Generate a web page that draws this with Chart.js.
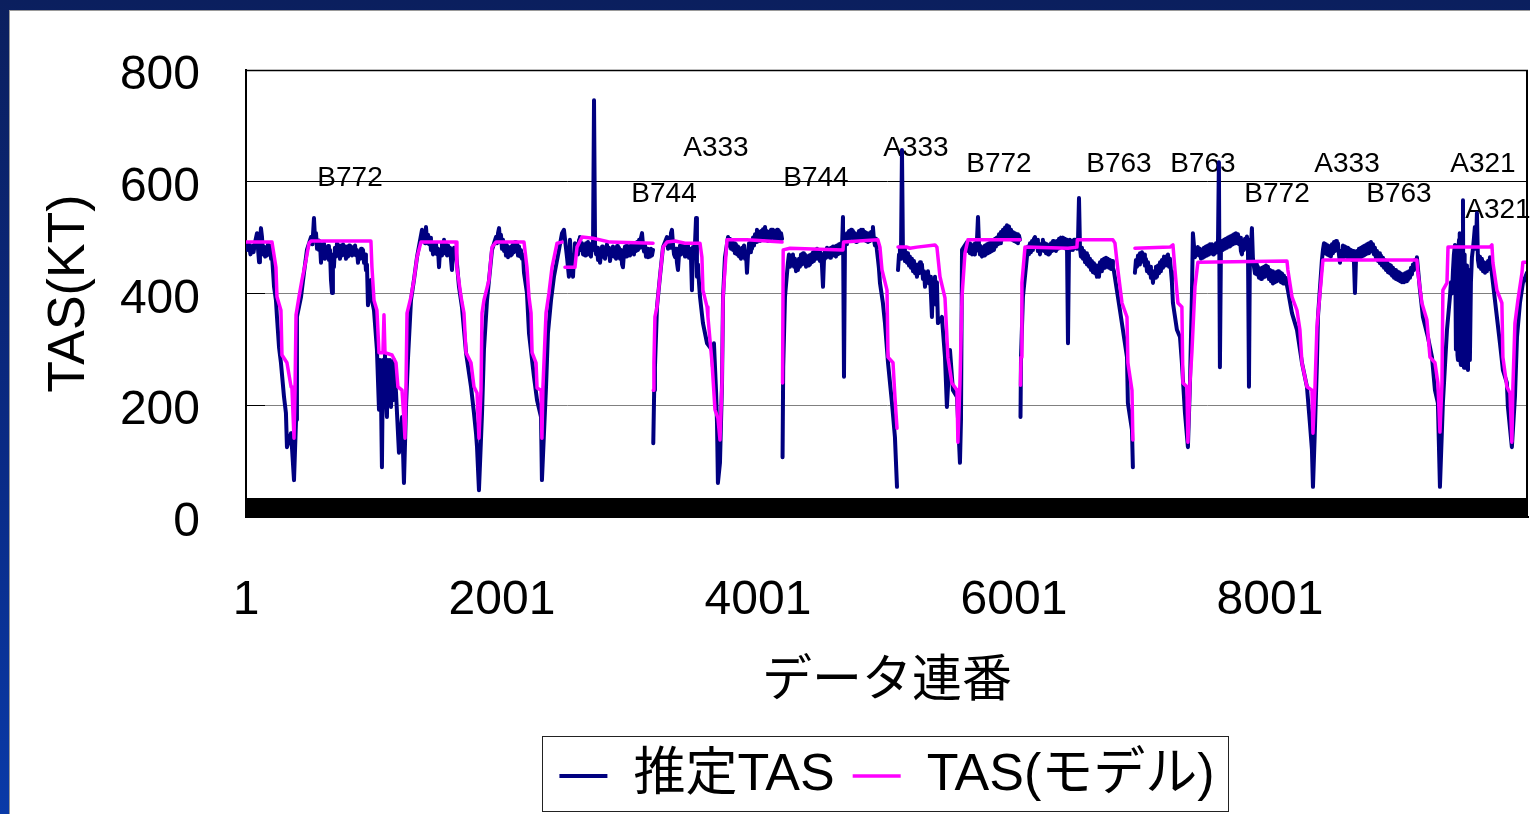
<!DOCTYPE html>
<html><head><meta charset="utf-8">
<script src="https://cdn.jsdelivr.net/npm/chart.js@4.4.1/dist/chart.umd.min.js"></script>
<style>
html,body{margin:0;padding:0;width:1530px;height:814px;overflow:hidden;}
body{background:linear-gradient(to bottom,#0b1f5e 0%,#0a2a84 55%,#0a3aa8 100%);position:relative;}
#panel{position:absolute;left:9px;top:10px;right:0;bottom:0;background:#fff;border-left:1px solid #9a9a9a;border-top:1px solid #9a9a9a;}
#c{position:absolute;left:0;top:0;}
</style></head>
<body><div id="panel"></div><canvas id="c" width="1530" height="814"></canvas>
<script>
// ---- data (sequence number / TAS in kt) ----
const seriesNames = ['推定TAS', 'TAS(モデル)'];
const xTitle = 'データ連番';
const yTitle = 'TAS(KT)';
const xTickLabels = ['1', '2001', '4001', '6001', '8001'];

const estSeq = [
1,12,24,36,48,60,72,87,95,103,
110,118,126,134,142,150,158,165,173,181,
190,197,204,220,235,243,259,274,298,313,
321,353,360,376,392,399,431,454,477,509,
520,532,540,548,556,564,571,579,587,595,
603,610,618,626,634,642,649,657,665,673,
680,688,696,704,712,720,728,735,743,751,
759,767,775,782,790,798,806,813,821,829,
837,845,853,861,868,876,884,892,900,907,
915,923,931,938,946,954,977,985,1001,1024,
1040,1048,1056,1063,1071,1079,1087,1095,1102,1110,
1118,1126,1134,1142,1149,1157,1173,1196,1220,1235,
1251,1266,1290,1313,1337,1376,1384,1392,1400,1407,
1415,1423,1431,1439,1446,1454,1462,1470,1478,1485,
1493,1501,1509,1517,1525,1532,1540,1548,1556,1564,
1572,1580,1587,1595,1603,1610,1618,1626,1634,1642,
1665,1688,1720,1759,1782,1798,1806,1821,1845,1860,
1884,1923,1954,1962,1970,1978,1986,1993,2001,2009,
2017,2025,2032,2040,2048,2056,2064,2071,2079,2087,
2095,2103,2110,2118,2126,2134,2142,2149,2157,2165,
2173,2196,2212,2251,2275,2306,2313,2329,2345,2360,
2384,2407,2446,2470,2485,2509,2524,2532,2540,2548,
2556,2564,2571,2579,2587,2595,2603,2610,2618,2626,
2634,2642,2650,2657,2665,2673,2681,2689,2696,2704,
2712,2720,2728,2736,2744,2751,2759,2767,2775,2783,
2790,2798,2806,2814,2821,2829,2837,2845,2853,2861,
2868,2876,2884,2892,2900,2907,2915,2923,2931,2939,
2946,2954,2962,2970,2977,2985,2993,3001,3009,3017,
3025,3032,3040,3048,3056,3064,3072,3079,3087,3095,
3103,3111,3118,3126,3134,3141,3149,3157,3165,3173,
3181,3182,
3183,3190,3196,3212,3235,3259,3290,3298,3306,3314,
3321,3329,3337,3345,3353,3361,3368,3376,3384,3392,
3399,3407,3415,3423,3431,3438,3446,3454,3462,3470,
3478,3485,3493,3501,3509,3517,3524,3532,3540,3548,
3571,3603,3642,3649,3657,3673,3681,3688,3704,3720,
3728,3743,3767,3775,3782,3790,3798,3806,3814,3821,
3829,3837,3845,3853,3860,3868,3876,3884,3892,3900,
3907,3915,3923,3931,3939,3946,3954,3962,3970,3978,
3986,3993,4001,4009,4017,4025,4032,4040,4048,4056,
4064,4071,4079,4087,4095,4103,4110,4118,4126,4134,
4142,4150,4157,4165,4173,4181,4189,4191,
4193,4198,4212,4235,4243,4251,4259,4266,4274,4282,
4290,4298,4306,4313,4321,4329,4337,4345,4353,4360,
4368,4376,4384,4392,4399,4407,4415,4423,4431,4438,
4446,4454,4462,4470,4478,4485,4493,4501,4509,4517,
4524,4532,4540,4548,4556,4564,4571,4579,4587,4595,
4603,4610,4618,4626,4634,4642,4650,4657,4665,4673,
4681,4689,4696,4704,4712,4720,4728,4735,4743,4751,
4759,4767,4774,4782,4790,4798,4806,4814,4821,4829,
4837,4845,4853,4860,4868,4876,4884,4892,4899,4907,
4915,4923,4930,4938,4946,4954,4977,4993,5017,5048,
5071,5087,5090,
5095,5103,5110,5118,5126,5134,5142,5149,5157,5165,
5173,5181,5188,5196,5204,5212,5220,5228,5235,5243,
5251,5259,5267,5274,5282,5290,5298,5306,5314,5321,
5329,5337,5345,5352,5360,5368,5376,5384,5392,5399,
5407,5438,5462,5477,5501,5524,5556,5579,5587,5595,
5634,5642,5650,5657,5665,5673,5681,5689,5696,5704,
5712,5720,5728,5735,5743,5751,5759,5767,5774,5782,
5790,5798,5806,5813,5821,5829,5837,5845,5853,5860,
5868,5876,5884,5892,5899,5907,5915,5923,5931,5939,
5946,5954,5962,5970,5978,5986,5993,6001,6009,6017,
6025,6032,6040,6048,6050,
6052,6056,6071,6102,6110,6118,6126,6134,6142,6149,
6157,6165,6173,6181,6188,6196,6204,6212,6220,6227,
6235,6243,6251,6259,6267,6274,6282,6290,6298,6306,
6313,6321,6329,6337,6345,6353,6360,6368,6376,6384,
6392,6399,6407,6415,6423,6431,6438,6446,6454,6462,
6470,6477,6485,6493,6501,6509,6517,6524,6532,6540,
6548,6556,6564,6571,6579,6587,6595,6603,6610,6618,
6626,6634,6642,6649,6657,6665,6673,6681,6688,6696,
6704,6712,6720,6728,6735,6743,6751,6759,6767,6774,
6782,6805,6829,6852,6884,6891,6923,6930,6935,
6946,6954,6962,6970,6978,6985,6993,7001,7009,7017,
7024,7032,7040,7048,7056,7064,7071,7079,7087,7095,
7103,7110,7118,7126,7134,7142,7149,7157,7165,7173,
7181,7188,7196,7204,7212,7220,7228,7235,7243,7274,
7298,7313,7337,7360,7376,7391,7399,7415,7438,7446,
7454,7462,7470,7477,7485,7493,7501,7509,7517,7524,
7532,7540,7548,7556,7563,7571,7579,7587,7595,7602,
7610,7618,7626,7634,7642,7649,7657,7665,7673,7681,
7688,7696,7704,7712,7720,7728,7735,7743,7751,7759,
7767,7774,7782,7790,7798,7806,7813,7821,7829,7837,
7845,7852,7860,7868,7876,7884,7892,7899,7907,7915,
7923,7931,7938,7946,7954,7962,7970,7977,7985,7993,
8001,8009,8017,8024,8032,8040,8048,8056,8064,8071,
8079,8087,8095,8103,8110,8118,8126,8134,8141,8173,
8212,8251,8290,8313,8329,8337,8352,8368,8376,8407,
8415,8423,8431,8438,8446,8454,8462,8470,8477,8485,
8493,8501,8509,8517,8524,8532,8540,8548,8556,8564,
8571,8579,8587,8595,8603,8610,8618,8626,8634,8642,
8650,8657,8665,8673,8681,8689,8696,8704,8712,8720,
8728,8735,8743,8751,8759,8767,8774,8782,8790,8798,
8806,8813,8821,8829,8837,8845,8853,8860,8868,8876,
8884,8892,8899,8907,8915,8923,8931,8938,8946,8954,
8962,8970,8978,8985,8993,9001,9009,9017,9024,9032,
9040,9048,9056,9064,9071,9079,9087,9095,9103,9110,
9118,9126,9134,9142,9149,9173,9196,9235,9267,9290,
9313,9329,9352,9384,9407,9415,9423,9431,9438,9446,
9450,9454,9458,9462,9466,9470,9474,9478,9482,9485,
9489,9493,9497,9501,9505,9509,9513,9517,9520,9524,
9528,9532,9536,9540,9544,9548,9552,9556,9560,9563,
9571,9579,9587,9595,9602,9610,9618,9626,9634,9642,
9650,9657,9665,9673,9681,9689,9696,9704,9712,9720,
9743,9774,9798,9821,9852,9860,9891,9915,9931,9954,
9977,10009,10017];

const estTas = [
490,478,488,470,485,474,492,508,480,456,
490,517,501,470,484,466,480,468,488,476,
485,462,470,412,388,358,304,276,215,186,
125,150,125,66,174,358,394,437,478,501,
488,535,500,508,480,495,478,490,455,485,
470,490,462,482,466,485,460,478,424,401,
470,447,482,466,490,470,486,462,482,468,
488,472,484,462,476,466,486,470,484,468,
482,470,486,468,478,455,472,462,480,466,
478,455,470,442,452,379,424,388,370,299,
192,281,209,89,281,200,290,209,179,281,
200,281,197,272,209,281,222,115,179,61,
197,281,388,424,465,514,495,510,490,519,
495,505,488,500,478,490,470,488,472,490,
470,480,447,478,468,490,475,496,472,488,
468,486,470,482,460,442,470,482,466,472,
412,376,294,233,186,150,125,48,186,299,
388,478,501,490,508,517,492,505,480,496,
476,490,468,486,465,480,468,484,470,488,
474,492,478,490,468,484,466,478,462,470,
437,401,329,251,209,179,66,150,233,329,
388,430,478,508,514,465,430,496,470,455,
430,470,490,472,488,470,496,501,478,490,
470,486,468,490,476,492,470,484,466,490,
478,746,488,470,482,460,476,455,472,484,
466,480,462,476,488,470,482,458,474,468,
484,466,480,462,485,470,482,462,478,452,
447,472,484,466,486,470,484,468,486,474,
488,470,486,476,492,478,496,482,500,508,
486,475,488,466,480,465,478,466,480,468,
478,null,
132,227,268,376,430,483,501,480,500,482,
508,514,488,470,465,480,455,442,470,486,
470,490,472,488,466,482,470,486,464,480,
462,406,483,466,490,535,430,452,420,394,
347,311,299,268,311,227,168,61,97,240,
394,465,501,486,498,480,494,478,490,472,
488,470,484,466,478,462,482,468,486,462,
474,437,470,490,474,494,480,500,486,506,
492,514,496,510,494,512,498,515,500,519,
498,512,494,510,496,514,500,514,498,512,
496,514,500,512,496,508,498,null,
107,268,394,455,470,448,466,452,470,448,
462,440,458,442,462,448,470,452,472,455,
470,448,466,450,468,452,470,456,474,458,
476,462,480,462,476,458,472,450,412,462,
478,464,482,466,480,464,482,468,484,468,
484,466,486,470,488,472,490,478,537,251,
501,488,508,494,512,498,514,500,512,494,
508,492,506,494,512,498,514,500,514,496,
510,494,508,492,506,494,510,498,519,496,
486,498,478,462,445,419,383,347,276,204,
143,54,null,
442,470,483,462,657,465,480,458,474,455,
472,450,466,446,462,440,458,436,452,430,
452,436,456,440,452,426,440,412,436,420,
440,418,430,400,358,420,400,430,380,420,
347,358,286,197,299,227,215,97,174,478,
492,476,490,472,488,470,486,470,490,476,
496,537,486,470,484,466,482,468,486,470,
488,472,490,474,492,476,494,478,498,484,
500,488,506,490,510,496,514,498,518,502,
522,506,520,500,514,496,510,494,508,492,
506,490,504,496,null,
179,286,394,465,484,470,490,474,494,478,
498,501,484,496,476,490,470,486,478,496,
476,490,472,488,470,486,472,490,476,494,
478,492,476,494,480,498,482,500,486,500,
482,498,480,496,311,486,496,478,494,478,
496,482,496,480,492,571,480,466,482,462,
476,456,472,452,468,448,462,442,458,438,
454,436,450,430,446,430,456,440,460,444,
462,446,464,448,462,446,460,444,458,446,
440,406,370,335,286,204,156,89,null,
437,460,448,468,452,472,456,474,458,470,
450,462,440,456,436,448,428,440,419,440,
428,448,430,450,436,456,440,460,446,466,
450,466,452,470,448,462,440,420,383,335,
322,276,186,125,240,394,508,465,483,468,
480,462,478,464,482,466,484,468,486,470,
488,472,488,470,486,472,490,474,490,635,
268,480,494,478,496,480,498,482,500,484,
502,486,504,488,506,490,508,492,506,488,
500,476,470,492,478,498,484,502,488,233,
496,482,517,462,448,436,452,434,448,428,
444,426,446,428,448,430,450,434,448,426,
442,422,440,418,436,420,438,422,440,424,
438,420,436,418,432,418,428,414,406,365,
335,276,233,168,120,54,156,276,358,460,
478,490,472,488,470,486,468,484,466,488,
472,492,476,494,478,490,470,455,476,462,
486,468,484,466,482,464,480,462,478,460,
476,458,401,460,476,462,480,464,482,466,
484,468,486,470,488,472,490,474,492,476,
488,470,482,464,476,458,472,454,468,450,
464,446,460,442,456,438,452,436,450,432,
446,428,442,426,440,424,438,422,436,420,
434,420,436,422,438,424,440,428,446,434,
452,442,460,452,465,406,358,322,286,227,
204,54,204,335,394,420,400,442,470,487,
420,300,470,483,290,281,480,496,300,508,
280,272,470,478,300,567,275,267,470,460,
290,267,450,424,270,263,440,442,300,281,
420,465,480,500,519,480,544,460,448,466,
444,462,440,456,437,454,440,458,444,465,
419,358,311,263,240,197,125,215,322,383,
419,437,412];

const modSeq = [
1,204,235,243,274,282,321,353,360,376,
384,392,415,438,470,493,509,977,985,1001,
1024,1040,1071,1079,1087,1142,1173,1188,1220,1235,
1243,1251,1259,1290,1313,1337,1368,1642,1649,1681,
1704,1720,1759,1782,1806,1821,1837,1845,1860,1899,
1923,1954,2173,2196,2212,2228,2236,2267,2275,2306,
2313,2321,2345,2368,2392,2431,2470,2480,2493,2571,
2587,2626,2712,2845,3181,3182,
3183,3188,3196,3212,3235,3259,3290,3353,3431,3548,
3563,3571,3603,3610,3642,3665,3688,3704,3720,3728,
3759,3915,4189,4191,
4193,4198,4251,4665,4670,4938,4954,4970,5009,5017,
5056,5071,5087,5090,
5095,5165,5188,5243,5384,5399,5423,5462,5485,5516,
5556,5563,5579,5595,5618,5641,6048,6050,
6052,6056,6063,6087,6423,6493,6496,6774,6790,6813,
6845,6884,6891,6923,6930,6935,
6946,7220,7243,7259,7282,7313,7321,7352,7360,7376,
7391,7415,7438,8134,8141,8173,8212,8235,8251,8290,
8329,8337,8352,8368,8392,8415,9149,9157,9188,9227,
9251,9290,9313,9329,9345,9352,9384,9392,9720,9735,
9743,9774,9813,9821,9852,9876,9891,9899,9915,9938,
9970,9977,10017];

const modTas = [
492,492,447,394,370,290,276,233,231,141,
227,362,394,424,460,490,494,494,447,388,
370,294,294,362,294,290,276,233,227,174,
141,233,365,394,424,465,492,492,447,394,
365,294,276,233,222,141,227,365,388,424,
483,492,492,447,394,365,294,276,231,227,
141,233,365,401,447,490,492,null,447,447,
483,501,499,492,490,null,
227,276,358,376,430,483,492,494,490,490,
465,406,376,358,276,192,177,138,240,394,
496,496,492,null,
240,478,481,478,492,496,483,442,406,286,
276,215,159,null,
483,483,481,483,487,483,430,392,286,240,
227,134,240,394,472,496,496,null,
236,286,419,483,481,483,496,496,490,442,
383,358,276,227,138,null,
481,483,487,442,383,376,240,233,134,240,
294,412,456,458,442,394,370,335,276,233,
227,150,227,340,401,460,460,437,383,353,
286,276,240,152,240,406,419,483,483,487,
455,406,383,286,233,222,134,233,347,388,
437,456,456];

// aircraft type labels placed at (sequence, TAS)
const annoText = ['B772','B744','A333','B744','A333','B772','B763','B763','B772','A333','B763','A321','A321'];
const annoSeq  = [814,3267,3673,4454,5235,5884,6821,7477,8056,8603,9009,9665,9782];
const annoTas  = [607,578,660,607,660,632,632,632,578,632,578,632,549];

// ---- chart ----
const LATIN = '"Liberation Sans", Arial, "Noto Sans CJK JP", sans-serif';
const JP = '"Noto Sans CJK JP", "Liberation Sans", sans-serif';
const toPts = (xs, ys) => xs.map((x, i) => ({x: x, y: ys[i] === undefined ? null : ys[i]}));

const framePlugin = {
  id: 'frame',
  afterDraw(chart) {
    const a = chart.chartArea, ctx = chart.ctx;
    ctx.save();
    ctx.strokeStyle = '#000';
    ctx.lineWidth = 1.5;
    ctx.beginPath(); ctx.moveTo(a.left, a.top + 0.5); ctx.lineTo(a.right, a.top + 0.5); ctx.stroke();
    ctx.lineWidth = 2;
    ctx.beginPath(); ctx.moveTo(a.right - 1, a.top); ctx.lineTo(a.right - 1, a.bottom); ctx.stroke();
    const hb = chart.legend.legendHitBoxes;
    if (hb && hb.length) {
      const l = hb[0].left - 17, last = hb[hb.length - 1];
      const r = last.left + last.width + 14;
      const cy = hb[0].top + hb[0].height / 2;
      ctx.lineWidth = 1; ctx.strokeStyle = '#222';
      ctx.strokeRect(Math.round(l) + 0.5, Math.round(cy - 40) + 0.5, Math.round(r - l), 75);
    }
    ctx.restore();
  }
};

const annoPlugin = {
  id: 'anno',
  beforeDatasetsDraw(chart) {
    const ctx = chart.ctx, xs = chart.scales.x, ys = chart.scales.y;
    ctx.save();
    ctx.font = '28px ' + LATIN;
    ctx.fillStyle = '#000';
    ctx.textAlign = 'center';
    ctx.textBaseline = 'middle';
    annoText.forEach((t, i) => ctx.fillText(t, xs.getPixelForValue(annoSeq[i]), ys.getPixelForValue(annoTas[i])));
    ctx.restore();
  }
};

new Chart(document.getElementById('c'), {
  type: 'line',
  data: {
    datasets: [
      {label: seriesNames[0], data: toPts(estSeq, estTas), borderColor: '#000080', backgroundColor: '#000080',
       borderWidth: 4, pointRadius: 0, tension: 0, spanGaps: false, order: 2},
      {label: seriesNames[1], data: toPts(modSeq, modTas), borderColor: '#ff00ff', backgroundColor: '#ff00ff',
       borderWidth: 3.5, pointRadius: 0, tension: 0, spanGaps: false, order: 1}
    ]
  },
  options: {
    responsive: false, animation: false, devicePixelRatio: 1,
    layout: {padding: {left: 0, right: 2, top: 70, bottom: 2}},
    elements: {line: {borderJoinStyle: 'round', borderCapStyle: 'round'}},
    plugins: {
      tooltip: {enabled: false},
      legend: {
        position: 'bottom', fullSize: false,
        labels: {usePointStyle: true, pointStyle: 'line', pointStyleWidth: 48, padding: 18, color: '#000',
                 font: {size: 52, family: LATIN}, sort: (a, b) => a.datasetIndex - b.datasetIndex}
      }
    },
    scales: {
      x: {
        type: 'linear', min: 1, max: 10017,
        afterBuildTicks(s) { const t = []; for (let v = 1; v <= 10017; v += 5) t.push({value: v}); s.ticks = t; },
        afterFit(s) { s.height = 215; s.paddingLeft = 0; s.paddingRight = 0; },
        ticks: {autoSkip: false, maxRotation: 0, padding: 74, color: '#000', font: {size: 48, family: LATIN},
                callback: (v) => xTickLabels.includes(String(v)) ? String(v) : ''},
        grid: {drawOnChartArea: false, drawTicks: true, tickLength: -19, tickColor: '#000', tickWidth: 1},
        border: {color: '#000', width: 2},
        title: {display: true, text: xTitle, color: '#000', font: {size: 50, family: JP}, padding: {top: 0, bottom: 25}}
      },
      y: {
        min: 0, max: 800,
        afterFit(s) { s.width = 246; s.paddingTop = 0; s.paddingBottom = 0; },
        ticks: {stepSize: 200, padding: 65, labelOffset: 6, color: '#000', font: {size: 48, family: LATIN}},
        grid: {color: (c) => (c.tick && (c.tick.value === 600 || c.tick.value === 800)) ? '#000' : '#808080',
               tickColor: '#000', tickLength: -19, lineWidth: 1},
        border: {color: '#000', width: 2},
        title: {display: true, text: yTitle, color: '#000', font: {size: 52, family: LATIN}, padding: {top: 38, bottom: 0}}
      }
    }
  },
  plugins: [framePlugin, annoPlugin]
});
</script>
</body></html>
